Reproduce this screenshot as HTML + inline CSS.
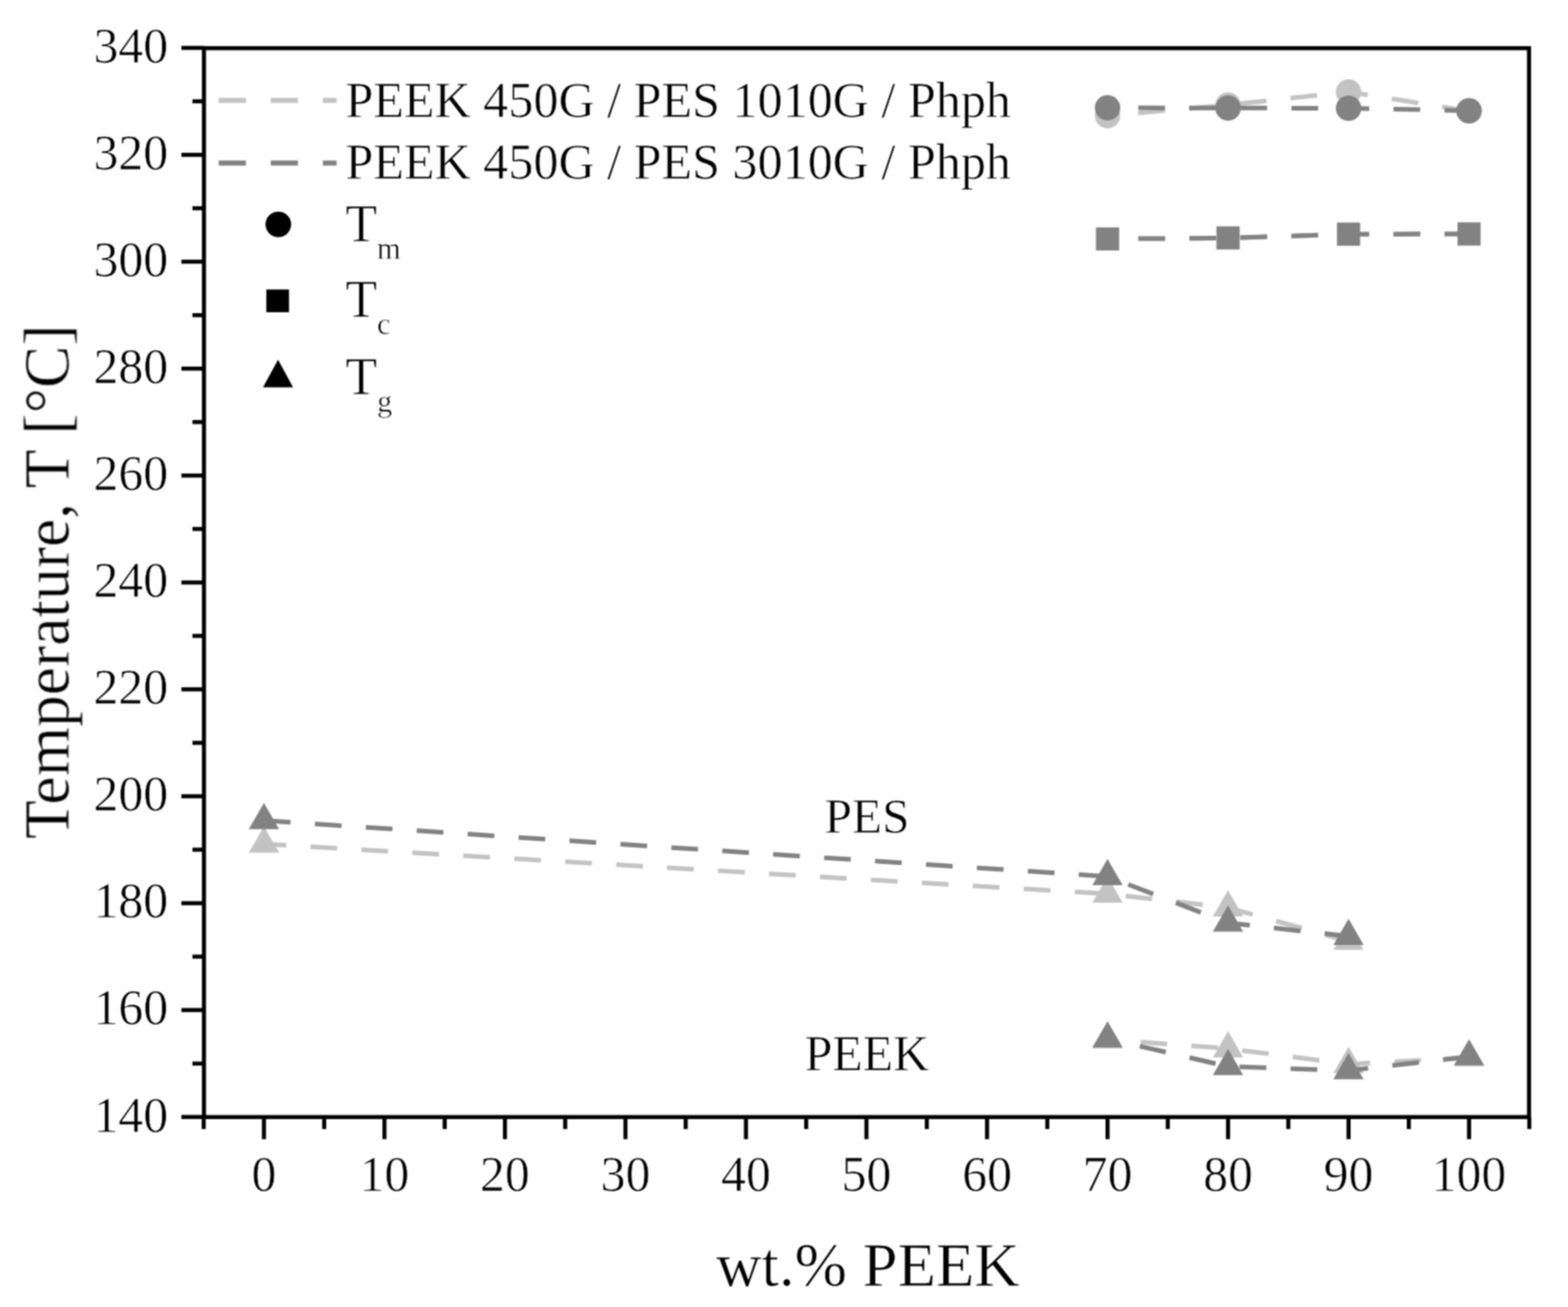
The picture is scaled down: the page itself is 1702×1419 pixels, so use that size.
<!DOCTYPE html>
<html><head><meta charset="utf-8"><title>Temperature vs wt.% PEEK</title>
<style>html,body{margin:0;padding:0;background:#fff;}svg{display:block;}</style></head>
<body>
<svg width="1702" height="1419" viewBox="0 0 1702 1419">
<defs><filter id="soft" x="0" y="0" width="1702" height="1419" filterUnits="userSpaceOnUse" color-interpolation-filters="sRGB"><feConvolveMatrix order="3" kernelMatrix="1 2 1 2 4 2 1 2 1" divisor="16" edgeMode="duplicate"/></filter></defs>
<rect width="1702" height="1419" fill="#fff"/>
<g filter="url(#soft)">
<rect x="221.4" y="52.3" width="1438.3" height="1160.5" fill="none" stroke="#000" stroke-width="4.4"/>
<line x1="196.9" y1="1212.7" x2="221.4" y2="1212.7" stroke="#000" stroke-width="4.4"/>
<line x1="208.9" y1="1154.7" x2="221.4" y2="1154.7" stroke="#000" stroke-width="4.4"/>
<line x1="196.9" y1="1096.6" x2="221.4" y2="1096.6" stroke="#000" stroke-width="4.4"/>
<line x1="208.9" y1="1038.6" x2="221.4" y2="1038.6" stroke="#000" stroke-width="4.4"/>
<line x1="196.9" y1="980.6" x2="221.4" y2="980.6" stroke="#000" stroke-width="4.4"/>
<line x1="208.9" y1="922.5" x2="221.4" y2="922.5" stroke="#000" stroke-width="4.4"/>
<line x1="196.9" y1="864.5" x2="221.4" y2="864.5" stroke="#000" stroke-width="4.4"/>
<line x1="208.9" y1="806.5" x2="221.4" y2="806.5" stroke="#000" stroke-width="4.4"/>
<line x1="196.9" y1="748.4" x2="221.4" y2="748.4" stroke="#000" stroke-width="4.4"/>
<line x1="208.9" y1="690.4" x2="221.4" y2="690.4" stroke="#000" stroke-width="4.4"/>
<line x1="196.9" y1="632.4" x2="221.4" y2="632.4" stroke="#000" stroke-width="4.4"/>
<line x1="208.9" y1="574.3" x2="221.4" y2="574.3" stroke="#000" stroke-width="4.4"/>
<line x1="196.9" y1="516.3" x2="221.4" y2="516.3" stroke="#000" stroke-width="4.4"/>
<line x1="208.9" y1="458.2" x2="221.4" y2="458.2" stroke="#000" stroke-width="4.4"/>
<line x1="196.9" y1="400.2" x2="221.4" y2="400.2" stroke="#000" stroke-width="4.4"/>
<line x1="208.9" y1="342.2" x2="221.4" y2="342.2" stroke="#000" stroke-width="4.4"/>
<line x1="196.9" y1="284.1" x2="221.4" y2="284.1" stroke="#000" stroke-width="4.4"/>
<line x1="208.9" y1="226.1" x2="221.4" y2="226.1" stroke="#000" stroke-width="4.4"/>
<line x1="196.9" y1="168.1" x2="221.4" y2="168.1" stroke="#000" stroke-width="4.4"/>
<line x1="208.9" y1="110.0" x2="221.4" y2="110.0" stroke="#000" stroke-width="4.4"/>
<line x1="196.9" y1="52.0" x2="221.4" y2="52.0" stroke="#000" stroke-width="4.4"/>
<line x1="221.1" y1="1212.8" x2="221.1" y2="1225.8" stroke="#000" stroke-width="4.4"/>
<line x1="286.5" y1="1212.8" x2="286.5" y2="1236.8" stroke="#000" stroke-width="4.4"/>
<line x1="351.9" y1="1212.8" x2="351.9" y2="1225.8" stroke="#000" stroke-width="4.4"/>
<line x1="417.3" y1="1212.8" x2="417.3" y2="1236.8" stroke="#000" stroke-width="4.4"/>
<line x1="482.7" y1="1212.8" x2="482.7" y2="1225.8" stroke="#000" stroke-width="4.4"/>
<line x1="548.1" y1="1212.8" x2="548.1" y2="1236.8" stroke="#000" stroke-width="4.4"/>
<line x1="613.5" y1="1212.8" x2="613.5" y2="1225.8" stroke="#000" stroke-width="4.4"/>
<line x1="678.9" y1="1212.8" x2="678.9" y2="1236.8" stroke="#000" stroke-width="4.4"/>
<line x1="744.3" y1="1212.8" x2="744.3" y2="1225.8" stroke="#000" stroke-width="4.4"/>
<line x1="809.7" y1="1212.8" x2="809.7" y2="1236.8" stroke="#000" stroke-width="4.4"/>
<line x1="875.1" y1="1212.8" x2="875.1" y2="1225.8" stroke="#000" stroke-width="4.4"/>
<line x1="940.5" y1="1212.8" x2="940.5" y2="1236.8" stroke="#000" stroke-width="4.4"/>
<line x1="1006.0" y1="1212.8" x2="1006.0" y2="1225.8" stroke="#000" stroke-width="4.4"/>
<line x1="1071.4" y1="1212.8" x2="1071.4" y2="1236.8" stroke="#000" stroke-width="4.4"/>
<line x1="1136.8" y1="1212.8" x2="1136.8" y2="1225.8" stroke="#000" stroke-width="4.4"/>
<line x1="1202.2" y1="1212.8" x2="1202.2" y2="1236.8" stroke="#000" stroke-width="4.4"/>
<line x1="1267.6" y1="1212.8" x2="1267.6" y2="1225.8" stroke="#000" stroke-width="4.4"/>
<line x1="1333.0" y1="1212.8" x2="1333.0" y2="1236.8" stroke="#000" stroke-width="4.4"/>
<line x1="1398.4" y1="1212.8" x2="1398.4" y2="1225.8" stroke="#000" stroke-width="4.4"/>
<line x1="1463.8" y1="1212.8" x2="1463.8" y2="1236.8" stroke="#000" stroke-width="4.4"/>
<line x1="1529.2" y1="1212.8" x2="1529.2" y2="1225.8" stroke="#000" stroke-width="4.4"/>
<line x1="1594.6" y1="1212.8" x2="1594.6" y2="1236.8" stroke="#000" stroke-width="4.4"/>
<line x1="1660.0" y1="1212.8" x2="1660.0" y2="1225.8" stroke="#000" stroke-width="4.4"/>
<text transform="translate(182.5,1228.5) scale(1,1.03)" font-family="Liberation Serif, Times New Roman, serif" stroke="#fff" stroke-width="0.6" stroke-linejoin="round" font-size="54" text-anchor="end">140</text>
<text transform="translate(182.5,1112.4) scale(1,1.03)" font-family="Liberation Serif, Times New Roman, serif" stroke="#fff" stroke-width="0.6" stroke-linejoin="round" font-size="54" text-anchor="end">160</text>
<text transform="translate(182.5,996.4) scale(1,1.03)" font-family="Liberation Serif, Times New Roman, serif" stroke="#fff" stroke-width="0.6" stroke-linejoin="round" font-size="54" text-anchor="end">180</text>
<text transform="translate(182.5,880.3) scale(1,1.03)" font-family="Liberation Serif, Times New Roman, serif" stroke="#fff" stroke-width="0.6" stroke-linejoin="round" font-size="54" text-anchor="end">200</text>
<text transform="translate(182.5,764.2) scale(1,1.03)" font-family="Liberation Serif, Times New Roman, serif" stroke="#fff" stroke-width="0.6" stroke-linejoin="round" font-size="54" text-anchor="end">220</text>
<text transform="translate(182.5,648.2) scale(1,1.03)" font-family="Liberation Serif, Times New Roman, serif" stroke="#fff" stroke-width="0.6" stroke-linejoin="round" font-size="54" text-anchor="end">240</text>
<text transform="translate(182.5,532.1) scale(1,1.03)" font-family="Liberation Serif, Times New Roman, serif" stroke="#fff" stroke-width="0.6" stroke-linejoin="round" font-size="54" text-anchor="end">260</text>
<text transform="translate(182.5,416.0) scale(1,1.03)" font-family="Liberation Serif, Times New Roman, serif" stroke="#fff" stroke-width="0.6" stroke-linejoin="round" font-size="54" text-anchor="end">280</text>
<text transform="translate(182.5,299.9) scale(1,1.03)" font-family="Liberation Serif, Times New Roman, serif" stroke="#fff" stroke-width="0.6" stroke-linejoin="round" font-size="54" text-anchor="end">300</text>
<text transform="translate(182.5,183.9) scale(1,1.03)" font-family="Liberation Serif, Times New Roman, serif" stroke="#fff" stroke-width="0.6" stroke-linejoin="round" font-size="54" text-anchor="end">320</text>
<text transform="translate(182.5,67.8) scale(1,1.03)" font-family="Liberation Serif, Times New Roman, serif" stroke="#fff" stroke-width="0.6" stroke-linejoin="round" font-size="54" text-anchor="end">340</text>
<text transform="translate(286.5,1292.8) scale(1,1.03)" font-family="Liberation Serif, Times New Roman, serif" stroke="#fff" stroke-width="0.6" stroke-linejoin="round" font-size="54" text-anchor="middle">0</text>
<text transform="translate(417.3,1292.8) scale(1,1.03)" font-family="Liberation Serif, Times New Roman, serif" stroke="#fff" stroke-width="0.6" stroke-linejoin="round" font-size="54" text-anchor="middle">10</text>
<text transform="translate(548.1,1292.8) scale(1,1.03)" font-family="Liberation Serif, Times New Roman, serif" stroke="#fff" stroke-width="0.6" stroke-linejoin="round" font-size="54" text-anchor="middle">20</text>
<text transform="translate(678.9,1292.8) scale(1,1.03)" font-family="Liberation Serif, Times New Roman, serif" stroke="#fff" stroke-width="0.6" stroke-linejoin="round" font-size="54" text-anchor="middle">30</text>
<text transform="translate(809.7,1292.8) scale(1,1.03)" font-family="Liberation Serif, Times New Roman, serif" stroke="#fff" stroke-width="0.6" stroke-linejoin="round" font-size="54" text-anchor="middle">40</text>
<text transform="translate(940.5,1292.8) scale(1,1.03)" font-family="Liberation Serif, Times New Roman, serif" stroke="#fff" stroke-width="0.6" stroke-linejoin="round" font-size="54" text-anchor="middle">50</text>
<text transform="translate(1071.4,1292.8) scale(1,1.03)" font-family="Liberation Serif, Times New Roman, serif" stroke="#fff" stroke-width="0.6" stroke-linejoin="round" font-size="54" text-anchor="middle">60</text>
<text transform="translate(1202.2,1292.8) scale(1,1.03)" font-family="Liberation Serif, Times New Roman, serif" stroke="#fff" stroke-width="0.6" stroke-linejoin="round" font-size="54" text-anchor="middle">70</text>
<text transform="translate(1333.0,1292.8) scale(1,1.03)" font-family="Liberation Serif, Times New Roman, serif" stroke="#fff" stroke-width="0.6" stroke-linejoin="round" font-size="54" text-anchor="middle">80</text>
<text transform="translate(1463.8,1292.8) scale(1,1.03)" font-family="Liberation Serif, Times New Roman, serif" stroke="#fff" stroke-width="0.6" stroke-linejoin="round" font-size="54" text-anchor="middle">90</text>
<text transform="translate(1594.6,1292.8) scale(1,1.03)" font-family="Liberation Serif, Times New Roman, serif" stroke="#fff" stroke-width="0.6" stroke-linejoin="round" font-size="54" text-anchor="middle">100</text>
<text x="942" y="1396.3" font-family="Liberation Serif, Times New Roman, serif" stroke="#fff" stroke-width="0.6" stroke-linejoin="round" font-size="68.2" text-anchor="middle">wt.% PEEK</text>
<text transform="translate(74.5,631.6) rotate(-90)" x="0" y="0" font-family="Liberation Serif, Times New Roman, serif" stroke="#fff" stroke-width="0.6" stroke-linejoin="round" font-size="69" text-anchor="middle">Temperature, T [°C]</text>
<line x1="237.4" y1="109.1" x2="365.4" y2="109.1" stroke="#c3c3c3" stroke-width="5.5" stroke-dasharray="29.5 27"/>
<line x1="237.4" y1="177.1" x2="365.4" y2="177.1" stroke="#828282" stroke-width="5.5" stroke-dasharray="29.5 27"/>
<text x="375" y="126.8" font-family="Liberation Serif, Times New Roman, serif" stroke="#fff" stroke-width="0.6" stroke-linejoin="round" font-size="54.4">PEEK 450G / PES 1010G / Phph</text>
<text x="375" y="193.7" font-family="Liberation Serif, Times New Roman, serif" stroke="#fff" stroke-width="0.6" stroke-linejoin="round" font-size="54.4">PEEK 450G / PES 3010G / Phph</text>
<circle cx="302.1" cy="243.6" r="13.9" fill="#000"/>
<rect x="289.1" y="314.3" width="24.6" height="24.7" fill="#000"/>
<polygon points="301.8,390.6 318.1,420.6 285.5,420.6" fill="#000"/>
<text x="375" y="262" font-family="Liberation Serif, Times New Roman, serif" stroke="#fff" stroke-width="0.6" stroke-linejoin="round" font-size="56">T<tspan font-size="33" dy="19.4">m</tspan></text>
<text x="375" y="343.9" font-family="Liberation Serif, Times New Roman, serif" stroke="#fff" stroke-width="0.6" stroke-linejoin="round" font-size="56">T<tspan font-size="33" dy="19.4">c</tspan></text>
<text x="375" y="427.6" font-family="Liberation Serif, Times New Roman, serif" stroke="#fff" stroke-width="0.6" stroke-linejoin="round" font-size="56">T<tspan font-size="33" dy="19.4">g</tspan></text>
<text x="895" y="903.8" font-family="Liberation Serif, Times New Roman, serif" stroke="#fff" stroke-width="0.6" stroke-linejoin="round" font-size="53.5">PES</text>
<text x="873.5" y="1161.6" font-family="Liberation Serif, Times New Roman, serif" stroke="#fff" stroke-width="0.6" stroke-linejoin="round" font-size="54">PEEK</text>
<polyline points="1202.2,125.6 1333.0,114.0 1463.8,99.7 1594.6,120.5" fill="none" stroke="#c3c3c3" stroke-width="5" stroke-dasharray="29 26.4" stroke-dashoffset="22"/>
<polyline points="1202.2,259.4 1333.0,258.3 1463.8,254.2 1594.6,254.0" fill="none" stroke="#c3c3c3" stroke-width="5" stroke-dasharray="29 26.4" stroke-dashoffset="22"/>
<polyline points="286.5,916.2 1202.2,970.4 1333.0,985.5 1463.8,1021.8" fill="none" stroke="#c3c3c3" stroke-width="5" stroke-dasharray="29 26.4" stroke-dashoffset="4.8"/>
<polyline points="1202.2,1128.7 1333.0,1138.4 1463.8,1155.4 1594.6,1148.1" fill="none" stroke="#c3c3c3" stroke-width="5" stroke-dasharray="29 26.4" stroke-dashoffset="19.5"/>
<circle cx="1202.2" cy="125.6" r="13.8" fill="#c3c3c3"/>
<circle cx="1333.0" cy="114.0" r="13.8" fill="#c3c3c3"/>
<circle cx="1463.8" cy="99.7" r="13.8" fill="#c3c3c3"/>
<circle cx="1594.6" cy="120.5" r="13.8" fill="#c3c3c3"/>
<rect x="1189.7" y="246.9" width="25.0" height="25.0" fill="#c3c3c3"/>
<rect x="1320.5" y="245.8" width="25.0" height="25.0" fill="#c3c3c3"/>
<rect x="1451.3" y="241.7" width="25.0" height="25.0" fill="#c3c3c3"/>
<rect x="1582.1" y="241.5" width="25.0" height="25.0" fill="#c3c3c3"/>
<polygon points="286.5,897.2 303.0,925.7 270.0,925.7" fill="#c3c3c3"/>
<polygon points="1202.2,951.4 1218.6,979.9 1185.7,979.9" fill="#c3c3c3"/>
<polygon points="1333.0,966.5 1349.4,995.0 1316.5,995.0" fill="#c3c3c3"/>
<polygon points="1463.8,1002.8 1480.2,1031.3 1447.3,1031.3" fill="#c3c3c3"/>
<polygon points="1202.2,1109.7 1218.6,1138.2 1185.7,1138.2" fill="#c3c3c3"/>
<polygon points="1333.0,1119.4 1349.4,1147.9 1316.5,1147.9" fill="#c3c3c3"/>
<polygon points="1463.8,1136.4 1480.2,1164.9 1447.3,1164.9" fill="#c3c3c3"/>
<polygon points="1594.6,1129.1 1611.1,1157.6 1578.1,1157.6" fill="#c3c3c3"/>
<polyline points="1202.2,117.0 1333.0,117.3 1463.8,117.5 1594.6,120.2" fill="none" stroke="#828282" stroke-width="5" stroke-dasharray="29 26.4" stroke-dashoffset="22"/>
<polyline points="1202.2,259.4 1333.0,258.3 1463.8,254.2 1594.6,254.0" fill="none" stroke="#828282" stroke-width="5" stroke-dasharray="29 26.4" stroke-dashoffset="22"/>
<polyline points="286.5,890.8 1202.2,951.6 1333.0,1002.0 1463.8,1016.4" fill="none" stroke="#828282" stroke-width="5" stroke-dasharray="29 26.4" stroke-dashoffset="0"/>
<polyline points="1202.2,1127.8 1333.0,1157.8 1463.8,1162.3 1594.6,1147.2" fill="none" stroke="#828282" stroke-width="5" stroke-dasharray="29 26.4" stroke-dashoffset="19.5"/>
<circle cx="1202.2" cy="117.0" r="13.8" fill="#828282"/>
<circle cx="1333.0" cy="117.3" r="13.8" fill="#828282"/>
<circle cx="1463.8" cy="117.5" r="13.8" fill="#828282"/>
<circle cx="1594.6" cy="120.2" r="13.8" fill="#828282"/>
<rect x="1189.7" y="246.9" width="25.0" height="25.0" fill="#828282"/>
<rect x="1320.5" y="245.8" width="25.0" height="25.0" fill="#828282"/>
<rect x="1451.3" y="241.7" width="25.0" height="25.0" fill="#828282"/>
<rect x="1582.1" y="241.5" width="25.0" height="25.0" fill="#828282"/>
<polygon points="286.5,871.8 303.0,900.3 270.0,900.3" fill="#828282"/>
<polygon points="1202.2,932.6 1218.6,961.1 1185.7,961.1" fill="#828282"/>
<polygon points="1333.0,983.0 1349.4,1011.5 1316.5,1011.5" fill="#828282"/>
<polygon points="1463.8,997.4 1480.2,1025.9 1447.3,1025.9" fill="#828282"/>
<polygon points="1202.2,1108.8 1218.6,1137.3 1185.7,1137.3" fill="#828282"/>
<polygon points="1333.0,1138.8 1349.4,1167.3 1316.5,1167.3" fill="#828282"/>
<polygon points="1463.8,1143.3 1480.2,1171.8 1447.3,1171.8" fill="#828282"/>
<polygon points="1594.6,1128.2 1611.1,1156.7 1578.1,1156.7" fill="#828282"/>
</g>
</svg>
</body></html>
